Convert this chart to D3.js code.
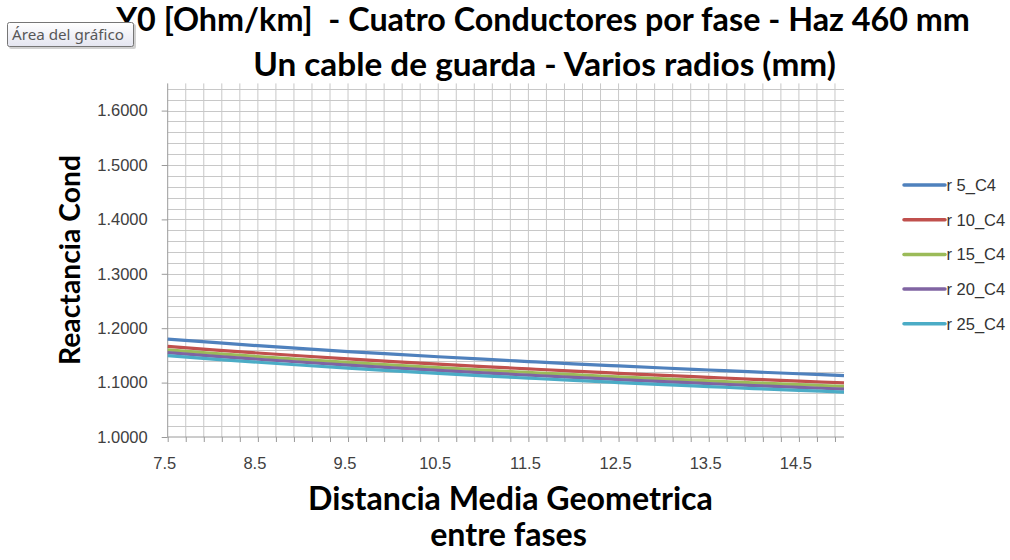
<!DOCTYPE html>
<html><head><meta charset="utf-8">
<script src="https://cdn.jsdelivr.net/npm/d3@7"></script>
<style>body{margin:0;background:#fff}svg{display:block}text{white-space:pre}</style>
</head><body>
<svg id="c" width="1010" height="560"></svg>
<script>
const categories = [7.5, 8.0, 8.5, 9.0, 9.5, 10.0, 10.5, 11.0, 11.5, 12.0, 12.5, 13.0, 13.5, 14.0, 14.5, 15.0];
const r5_C4  = [1.1800,1.1738,1.1679,1.1624,1.1571,1.1522,1.1475,1.1430,1.1387,1.1345,1.1306,1.1268,1.1232,1.1196,1.1163,1.1130];
const r10_C4 = [1.1665,1.1603,1.1544,1.1489,1.1436,1.1387,1.1340,1.1295,1.1252,1.1210,1.1171,1.1133,1.1097,1.1061,1.1028,1.0995];
const r15_C4 = [1.1600,1.1538,1.1479,1.1424,1.1371,1.1322,1.1275,1.1230,1.1187,1.1145,1.1106,1.1068,1.1032,1.0996,1.0963,1.0930];
const r20_C4 = [1.1550,1.1488,1.1429,1.1374,1.1321,1.1272,1.1225,1.1180,1.1137,1.1095,1.1056,1.1018,1.0982,1.0946,1.0913,1.0880];
const r25_C4 = [1.1495,1.1433,1.1374,1.1319,1.1266,1.1217,1.1170,1.1125,1.1082,1.1040,1.1001,1.0963,1.0927,1.0891,1.0858,1.0825];
const seriesNames = ["r 5_C4","r 10_C4","r 15_C4","r 20_C4","r 25_C4"];
const seriesColors = ["#4F81BD","#C0504D","#9BBB59","#8064A2","#4BACC6"];
const xTickLabels = [7.5, 8.5, 9.5, 10.5, 11.5, 12.5, 13.5, 14.5];
const yTickLabels = [1.0, 1.1, 1.2, 1.3, 1.4, 1.5, 1.6];
const titleLines = ["Y0 [Ohm/km]  - Cuatro Conductores por fase - Haz 460 mm", "Un cable de guarda - Varios radios (mm)"];
const xTitleLines = ["Distancia Media Geometrica", "entre fases"];
const yTitle = "Reactancia Cond";

const allSeries = [r5_C4, r10_C4, r15_C4, r20_C4, r25_C4];
const svg = d3.select("#c");
const x = d3.scaleLinear().domain([7.5, 15.0]).range([167.7, 844]);
const y = d3.scaleLinear().domain([1.0, 1.65]).range([437, 83.4]);
const TF = "Lato, 'Open Sans', sans-serif";
const LF = "'Liberation Sans', Arial, sans-serif";

function fit(sel, target){
  const fs = parseFloat(sel.attr("font-size"));
  const w = sel.node().getComputedTextLength();
  sel.attr("font-size", fs * target / w);
}

// gridlines
const g = svg.append("g");
const xGrid = d3.range(0, 38).map(i => 7.5 + 0.2 * i);
const yGrid = d3.range(1, 33).map(i => 1.0 + 0.02 * i);
g.selectAll(".vg").data(xGrid.slice(1)).join("line")
  .attr("x1", d => x(d)).attr("x2", d => x(d)).attr("y1", y(1.65)).attr("y2", y(1.0))
  .attr("stroke", "#c8c8c8").attr("stroke-width", 1);
g.selectAll(".hg").data(yGrid).join("line")
  .attr("x1", x(7.5)).attr("x2", x(15)).attr("y1", d => Math.round(y(d)) + 0.5).attr("y2", d => Math.round(y(d)) + 0.5)
  .attr("stroke", "#c8c8c8").attr("stroke-width", 1);

// axes
const xAxis = d3.axisBottom(x).tickValues(xGrid).tickSize(5).tickFormat("");
svg.append("g").attr("transform", `translate(0,${y(1.0)})`).call(xAxis)
  .call(a => a.select(".domain").attr("stroke", "#9a9a9a").attr("d", `M${x(7.5)},0H${x(15)}`))
  .call(a => a.selectAll(".tick line").attr("stroke", "#9a9a9a"));
svg.append("g").attr("transform", `translate(0,${y(1.0)})`)
  .selectAll("text").data(xTickLabels).join("text")
  .attr("x", d => x(d) - 3).attr("y", 32).attr("text-anchor", "middle")
  .attr("font-family", LF).attr("font-size", 16.5).attr("fill", "#404040")
  .text(d => d.toFixed(1));

const yAxis = d3.axisLeft(y).tickValues(yTickLabels).tickSize(6).tickFormat(d3.format(".4f"));
svg.append("g").attr("transform", `translate(${x(7.5)},0)`).call(yAxis)
  .call(a => a.select(".domain").attr("stroke", "#9a9a9a").attr("d", `M0,${y(1.65)}V${y(1.0)}`))
  .call(a => a.selectAll(".tick line").attr("stroke", "#9a9a9a"))
  .call(a => a.selectAll(".tick text").attr("x", -20).attr("font-family", LF).attr("font-size", 16.5).attr("fill", "#404040"));

// lines
const line = d3.line().x((d, i) => x(categories[i])).y(d => y(d)).curve(d3.curveMonotoneX);
svg.append("g").selectAll("path").data(allSeries).join("path")
  .attr("d", line).attr("fill", "none")
  .attr("stroke", (d, i) => seriesColors[i]).attr("stroke-width", 3.2).attr("stroke-linejoin", "round");

// legend
const lg = svg.append("g");
seriesNames.forEach((n, i) => {
  const yy = 185 + i * 34.7;
  lg.append("line").attr("x1", 904).attr("x2", 945).attr("y1", yy).attr("y2", yy)
    .attr("stroke", seriesColors[i]).attr("stroke-width", 3.5).attr("stroke-linecap", "round");
  lg.append("text").attr("x", 946.5).attr("y", yy + 6).attr("font-family", LF).attr("font-size", 16.5)
    .attr("fill", "#333").text(n);
});

// titles
const t1 = svg.append("text").attr("x", 543).attr("y", 31).attr("text-anchor", "middle")
  .attr("font-family", TF).attr("font-weight", "bold").attr("font-size", 27).attr("fill", "#000").text(titleLines[0]);
fit(t1, 854);
const t2 = svg.append("text").attr("x", 544.5).attr("y", 75.5).attr("text-anchor", "middle")
  .attr("font-family", TF).attr("font-weight", "bold").attr("font-size", 27).attr("fill", "#000").text(titleLines[1]);
fit(t2, 583);
const xt1 = svg.append("text").attr("x", 510.5).attr("y", 510).attr("text-anchor", "middle")
  .attr("font-family", TF).attr("font-weight", "bold").attr("font-size", 27).attr("fill", "#000").text(xTitleLines[0]);
fit(xt1, 405);
const xt2 = svg.append("text").attr("x", 508.5).attr("y", 546).attr("text-anchor", "middle")
  .attr("font-family", TF).attr("font-weight", "bold").attr("font-size", parseFloat(xt1.attr("font-size"))).attr("fill", "#000").text(xTitleLines[1]);
const yt = svg.append("text").attr("transform", "translate(80,260) rotate(-90)").attr("text-anchor", "middle")
  .attr("font-family", TF).attr("font-weight", "bold").attr("font-size", 27).attr("fill", "#000").text(yTitle);
fit(yt, 210);

// tooltip
const defs = svg.append("defs");
const gr = defs.append("linearGradient").attr("id", "tg").attr("x1", 0).attr("x2", 0).attr("y1", 0).attr("y2", 1);
gr.append("stop").attr("offset", "0").attr("stop-color", "#ffffff");
gr.append("stop").attr("offset", "1").attr("stop-color", "#e4e5f0");
svg.append("rect").attr("x", 9).attr("y", 24).attr("width", 127).attr("height", 25).attr("rx", 2).attr("fill", "rgba(0,0,0,0.18)");
svg.append("rect").attr("x", 7.5).attr("y", 22.5).attr("width", 126).attr("height", 24).attr("rx", 2)
  .attr("fill", "url(#tg)").attr("stroke", "#767676");
const tt = svg.append("text").attr("x", 12).attr("y", 39.5).attr("font-family", "'Noto Sans', 'Open Sans', sans-serif")
  .attr("font-size", 13).attr("fill", "#575757").text("Área del gráfico");
fit(tt, 112);
</script>
</body></html>
